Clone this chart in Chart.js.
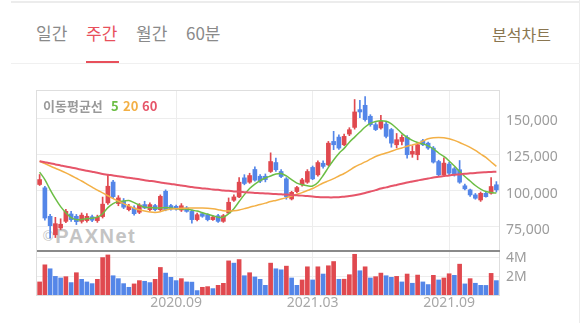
<!DOCTYPE html>
<html lang="ko">
<head>
<meta charset="utf-8">
<title>주간 차트</title>
<script src="https://cdn.jsdelivr.net/npm/chart.js@4.4.1/dist/chart.umd.min.js"></script>
<style>
  html, body { margin: 0; padding: 0; background: #fff; }
  body { width: 583px; height: 323px; position: relative; overflow: hidden;
         font-family: "Noto Sans CJK KR", "Noto Sans", sans-serif; }
  .rule { position: absolute; background: #ececec; }
  .tab { position: absolute; top: 21px; font-size: 17px; line-height: 24px; color: #8a8a8a; white-space: nowrap; }
  .tab.on { color: #e8505b; }
  .frame { position: absolute; left: 36px; top: 90px; width: 464px; height: 206px;
           box-sizing: border-box; border: 1px solid #dedede; }
  canvas { position: absolute; left: 0; z-index: 2; }
  .wm { position: absolute; left: 43px; top: 225px; color: #c4c4c4; z-index: 1;
        font-family: "Liberation Sans", Arial, sans-serif; font-weight: 700; font-size: 20px;
        letter-spacing: 1.5px; line-height: 22px; white-space: nowrap; }
  .wm small { font-size: 14px; font-weight: 400; letter-spacing: 0; margin-right: 2px; vertical-align: 2px; }
  .lg { position: absolute; top: 97px; font-size: 13px; line-height: 18px; font-weight: 700; z-index: 3; white-space: nowrap; }
</style>
</head>
<body>
  <div class="rule" style="left:11px;top:1px;width:569px;height:2px;"></div>
  <div class="rule" style="left:579px;top:0;width:1px;height:323px;"></div>
  <div class="rule" style="left:11px;top:63px;width:569px;height:1px;background:#f0f0f0;"></div>

  <div class="tab" style="left:36px;">일간</div>
  <div class="tab on" style="left:86px;">주간</div>
  <div class="tab" style="left:136px;">월간</div>
  <div class="tab" style="left:186px;">60분</div>
  <div style="position:absolute;left:86px;top:61px;width:33px;height:2px;background:#e8505b;"></div>
  <div class="tab" style="left:492px;top:22px;font-size:16px;color:#8a7650;">분석차트</div>

  <div class="frame"></div>
  <div class="wm"><small>©</small>PAXNet</div>

  <div class="lg" style="left:43px;color:#9a9a9a;">이동평균선</div>
  <div class="lg" style="left:111px;color:#6cbe45;">5</div>
  <div class="lg" style="left:123px;color:#f3b046;">20</div>
  <div class="lg" style="left:142px;color:#e65569;">60</div>

  <canvas id="price" width="583" height="159" style="top:91px;"></canvas>
  <div style="position:absolute;left:37px;top:250px;width:463px;height:2px;background:#8a8a8a;z-index:4;"></div>
  <canvas id="volume" width="583" height="71" style="top:252px;"></canvas>

<script>
// Weekly candles (week ending Friday)
const weeks = [
  '2020.03.06','2020.03.13','2020.03.20','2020.03.27','2020.04.03','2020.04.10','2020.04.17','2020.04.24','2020.05.01','2020.05.08',
  '2020.05.15','2020.05.22','2020.05.29','2020.06.05','2020.06.12','2020.06.19','2020.06.26','2020.07.03','2020.07.10','2020.07.17',
  '2020.07.24','2020.07.31','2020.08.07','2020.08.14','2020.08.21','2020.08.28','2020.09.04','2020.09.11','2020.09.18','2020.09.25',
  '2020.10.02','2020.10.09','2020.10.16','2020.10.23','2020.10.30','2020.11.06','2020.11.13','2020.11.20','2020.11.27','2020.12.04',
  '2020.12.11','2020.12.18','2020.12.25','2021.01.01','2021.01.08','2021.01.15','2021.01.22','2021.01.29','2021.02.05','2021.02.12',
  '2021.02.19','2021.02.26','2021.03.05','2021.03.12','2021.03.19','2021.03.26','2021.04.02','2021.04.09','2021.04.16','2021.04.23',
  '2021.04.30','2021.05.07','2021.05.14','2021.05.21','2021.05.28','2021.06.04','2021.06.11','2021.06.18','2021.06.25','2021.07.02',
  '2021.07.09','2021.07.16','2021.07.23','2021.07.30','2021.08.06','2021.08.13','2021.08.20','2021.08.27','2021.09.03','2021.09.10',
  '2021.09.17','2021.09.24','2021.10.01','2021.10.08','2021.10.15','2021.10.22','2021.10.29','2021.11.05'
];

const opens = [
  104200, 101900, 82200, 69400, 74100, 78700, 83800, 82200, 78700, 79200,
  81900, 79200, 82000, 91500, 105900, 91000, 92600, 86800, 88000, 85000,
  90300, 86800, 89600, 86800, 99500, 89600, 89100, 86500, 88000, 85600,
  79900, 84000, 83300, 79900, 82600, 78700, 84500, 93300, 95600, 108800,
  105800, 114600, 109900, 109900, 113200, 119400, 113200, 108100, 94200, 99300,
  104000, 105800, 116000, 110900, 118900, 117800, 134000, 137000, 131700, 139100,
  143700, 156000, 159000, 151400, 145600, 143300, 146000, 142200, 131700, 134000,
  136800, 125200, 124800, 134500, 132800, 129400, 120100, 110900, 118300, 115100,
  114400, 103300, 100500, 97000, 93500, 98100, 98100, 104000
];
const highs = [
  111100, 103000, 83500, 81500, 80500, 87000, 85600, 83500, 84500, 84000,
  83000, 83000, 95500, 111100, 107000, 96500, 94500, 90500, 89500, 91000,
  92600, 91500, 90500, 97000, 100500, 90500, 90000, 91000, 89000, 86500,
  84500, 85000, 84000, 82500, 83500, 83500, 94900, 97000, 109000, 111000,
  112000, 116500, 111000, 111500, 126100, 122400, 114500, 109000, 99500, 103000,
  108500, 114500, 117000, 120500, 120500, 134000, 141000, 138500, 139000, 143500,
  163000, 162500, 165000, 152500, 147000, 152000, 147500, 143000, 139500, 138500,
  138000, 131000, 133000, 135500, 133500, 130500, 121000, 122700, 119500, 116000,
  120800, 104500, 101000, 98000, 99000, 98800, 109000, 106200
];
const lows = [
  103500, 79500, 67000, 67500, 73000, 77800, 78700, 76500, 77500, 78200,
  78500, 78000, 81000, 90500, 94500, 89500, 87500, 86000, 83000, 84000,
  87500, 86000, 86000, 86000, 86000, 86500, 86500, 85500, 85000, 77500,
  79000, 81500, 79000, 79300, 78000, 78000, 84000, 92500, 95000, 104000,
  105000, 106500, 105500, 106000, 112500, 113200, 109000, 94000, 93500, 98500,
  103000, 105000, 107500, 110000, 115500, 117000, 128300, 128500, 131000, 138000,
  142500, 150500, 148000, 144500, 141500, 142500, 136500, 130000, 129500, 131500,
  122400, 123000, 121300, 131000, 128500, 119000, 110000, 110000, 111000, 110000,
  105000, 100500, 96000, 94000, 92500, 95500, 97500, 99000
];
const closes = [
  107600, 81000, 75700, 77100, 76700, 85600, 79900, 78500, 83000, 82200,
  79500, 81600, 90600, 103000, 95800, 94900, 88500, 89100, 84000, 90000,
  88000, 90300, 86800, 96000, 86800, 87300, 87300, 89500, 85600, 79900,
  83300, 82200, 79900, 81700, 78700, 82600, 91900, 95600, 105800, 104900,
  110400, 107200, 106500, 107600, 120100, 114400, 109700, 95800, 98800, 102100,
  107400, 113200, 108100, 119400, 116700, 132800, 131700, 129400, 137500, 142100,
  154400, 154400, 149100, 145600, 142200, 147900, 137500, 132800, 135200, 136800,
  124800, 127100, 131700, 131700, 129400, 119700, 110900, 119000, 112000, 110900,
  105800, 101200, 97000, 94700, 98100, 95800, 102800, 100500
];
const volumes = [
  1390000, 3210000, 2790000, 1980000, 1810000, 1950000, 1320000, 2370000, 1670000, 1390000,
  1210000, 1670000, 3980000, 4260000, 2050000, 1740000, 1210000, 820000, 1180000, 1530000,
  1460000, 1320000, 1670000, 2930000, 2330000, 1880000, 1530000, 1740000, 1390000, 1370000,
  470000, 820000, 890000, 680000, 1030000, 1240000, 3630000, 3390000, 3770000, 2050000,
  2370000, 1920000, 1670000, 1030000, 3390000, 2790000, 2680000, 3070000, 1810000, 1030000,
  1600000, 3000000, 1600000, 3000000, 2230000, 3110000, 3560000, 1670000, 1680000, 2160000,
  4330000, 2580000, 3000000, 1810000, 1950000, 2330000, 2050000, 1880000, 1980000, 1390000,
  2230000, 1250000, 2120000, 1390000, 1110000, 2090000, 1600000, 1810000, 2260000, 2090000,
  3280000, 1180000, 1740000, 1250000, 1030000, 1020000, 2300000, 1530000
];

// Moving averages (5, 20, 60 weeks)
const ma5 = [
  112800, 107600, 100700, 94400, 88900, 84700, 81300, 79900, 79900, 80600,
  80900, 81600, 84000, 88200, 91000, 92400, 92700, 93100, 91700, 89900,
  88500, 88200, 88000, 88000, 88200, 88000, 87500, 87300, 87200, 86500,
  85800, 84700, 83700, 82600, 81600, 81600, 84000, 87500, 92400, 97200,
  101400, 104500, 106900, 108700, 110100, 111500, 111800, 110100, 107600, 105200,
  104000, 103300, 103100, 105600, 110400, 116000, 121200, 125700, 129200, 133500,
  137000, 140500, 144000, 146500, 147800, 148300, 147900, 146200, 143100, 139600,
  136800, 134700, 133300, 132300, 130900, 128800, 126000, 123600, 120500, 117000,
  113200, 109700, 106600, 103500, 101000, 99300, 98600, 98300
];
const ma20 = [
  120300, 118700, 117000, 115400, 113900, 112200, 110400, 108500, 106600, 104500,
  102400, 100300, 98400, 96400, 94400, 92700, 91000, 89400, 87800, 86700,
  85800, 85200, 84900, 85400, 86500, 87200, 87500, 87700, 87800, 88000,
  88000, 88000, 87800, 87400, 86800, 86100, 85800, 86000, 86500, 87500,
  88500, 89400, 90300, 91300, 92400, 93200, 94100, 95100, 96200, 97400,
  98600, 100000, 101400, 103300, 105200, 106700, 108300, 110100, 111800, 114000,
  116300, 118100, 119800, 121700, 123600, 124900, 126000, 127200, 128500, 129500,
  130600, 131600, 132600, 134200, 135800, 136500, 136800, 136500, 135800, 134700,
  133300, 131600, 129900, 127800, 125300, 122900, 119800, 116700
];
const ma60 = [
  120300, 119600, 118900, 118100, 117400, 116700, 115900, 115200, 114400, 113700,
  113000, 112300, 111500, 111000, 110400, 109900, 109400, 108800, 108300, 107800,
  107200, 106700, 106200, 105600, 105100, 104600, 104000, 103500, 103000, 102400,
  101900, 101500, 101200, 100800, 100500, 100100, 99800, 99400, 99200, 98900,
  98600, 98400, 98200, 98000, 97800, 97600, 97400, 97200, 96900, 96700,
  96500, 96200, 95900, 95600, 95400, 95300, 95300, 95400, 95800, 96200,
  96800, 97500, 98300, 99300, 100300, 101400, 102200, 103100, 103900, 104700,
  105600, 106300, 107000, 107700, 108300, 109000, 109500, 110000, 110500, 110900,
  111200, 111600, 111900, 112200, 112500, 112700, 112900, 113100
];

// Axis ticks
const monthTicks = ['2020.09', '2021.03', '2021.09'];
const priceTicks = [75000, 100000, 125000, 150000];
const volumeTicks = [2000000, 4000000];

const UP = '#e0494f';
const DOWN = '#5486e8';
const GRID = '#ededed';

// first week of each labelled month
const tickAt = {};
monthTicks.forEach(m => {
  const i = weeks.findIndex(w => w.startsWith(m));
  if (i >= 0) tickAt[i] = m;
});

const candleColors = closes.map((c, i) => (c >= opens[i] ? UP : DOWN));
const volumeColors = volumes.map((v, i) => (i === 0 || v >= volumes[i - 1] ? UP : DOWN));

Chart.defaults.font.family = '"Noto Sans", sans-serif';
Chart.defaults.animation = false;

const xGrid = {
  drawTicks: false,
  offset: false,
  lineWidth: 1,
  color: ctx => (tickAt[ctx.index] ? GRID : 'rgba(0,0,0,0)')
};

// fixed-width value axis on the right, no extra room reserved for edge labels
const rightAxisFit = s => {
  s.width = 84;
  s.paddingTop = 0;
  s.paddingBottom = 0;
};
const noEdgePadding = s => {
  s.paddingLeft = 0;
  s.paddingRight = 0;
};

new Chart(document.getElementById('price'), {
  type: 'bar',
  data: {
    labels: weeks,
    datasets: [
      { type: 'line', data: ma60, borderColor: '#e65569', borderWidth: 2, pointRadius: 0, tension: 0.3, order: 1 },
      { type: 'line', data: ma20, borderColor: '#f3b046', borderWidth: 1.5, pointRadius: 0, tension: 0.3, order: 1 },
      { type: 'line', data: ma5, borderColor: '#6cbe45', borderWidth: 1.5, pointRadius: 0, tension: 0.3, order: 1 },
      { data: opens.map((o, i) => [o, closes[i]]), backgroundColor: candleColors, barThickness: 4,
        minBarLength: 1, grouped: false, order: 2 },
      { data: lows.map((l, i) => [l, highs[i]]), backgroundColor: candleColors, barThickness: 1,
        grouped: false, order: 3 }
    ]
  },
  options: {
    responsive: false,
    layout: { padding: { left: 37, right: 0, top: 0, bottom: 0 } },
    plugins: { legend: { display: false }, tooltip: { enabled: false } },
    scales: {
      x: {
        offset: true,
        grid: xGrid,
        border: { display: false },
        ticks: { display: false, autoSkip: false },
        afterFit: s => { s.height = 0; noEdgePadding(s); }
      },
      y: {
        position: 'right',
        min: 58880,
        max: 168890,
        afterBuildTicks: s => { s.ticks = priceTicks.map(v => ({ value: v })); },
        afterFit: rightAxisFit,
        grid: { drawTicks: false, color: GRID },
        border: { display: false },
        ticks: {
          padding: 7,
          labelOffset: 3,
          color: '#9c9c9c',
          font: { size: 14 },
          callback: v => Number(v).toLocaleString('en-US')
        }
      }
    }
  }
});

new Chart(document.getElementById('volume'), {
  type: 'bar',
  data: {
    labels: weeks,
    datasets: [
      { data: volumes, backgroundColor: volumeColors, barThickness: 4 }
    ]
  },
  options: {
    responsive: false,
    layout: { padding: { left: 37, right: 0, top: 0, bottom: 0 } },
    plugins: { legend: { display: false }, tooltip: { enabled: false } },
    scales: {
      x: {
        offset: true,
        grid: xGrid,
        border: { display: false },
        afterFit: s => { s.height = 28; noEdgePadding(s); },
        ticks: {
          autoSkip: false,
          maxRotation: 0,
          minRotation: 0,
          padding: 0,
          color: '#a8a8a8',
          font: { size: 14 },
          callback: (v, i) => tickAt[i] || ''
        }
      },
      y: {
        position: 'right',
        min: 0,
        max: 4574000,
        afterBuildTicks: s => { s.ticks = volumeTicks.map(v => ({ value: v })); },
        afterFit: rightAxisFit,
        grid: { drawTicks: false, color: GRID },
        border: { display: false },
        ticks: {
          padding: 7,
          labelOffset: 1,
          color: '#9c9c9c',
          font: { size: 14 },
          callback: v => (v / 1000000) + 'M'
        }
      }
    }
  }
});
</script>
</body>
</html>
